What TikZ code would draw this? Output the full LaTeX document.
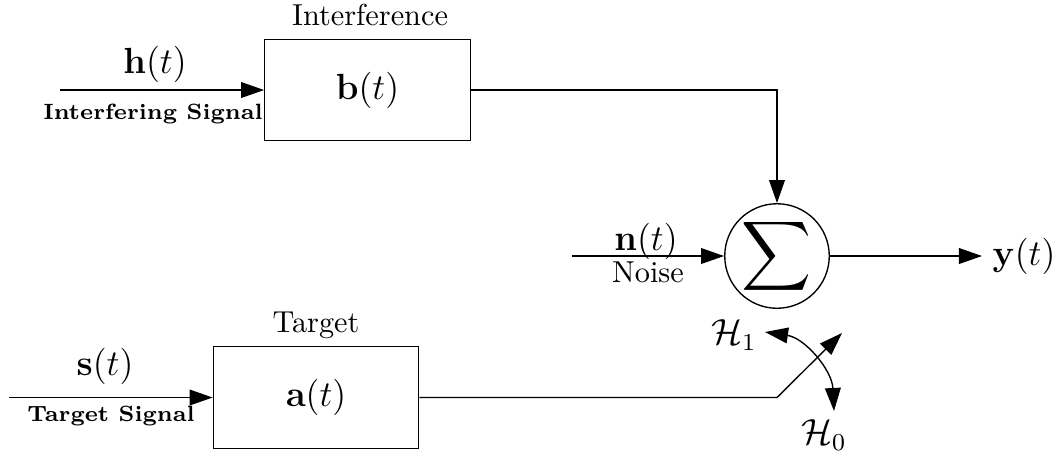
\documentclass[tikz,border=0pt]{standalone}
\usepackage{amsmath}
\usetikzlibrary{arrows.meta}
\begin{document}
\begin{tikzpicture}[x=0.33pt,y=-0.33pt,
  line width=0.45pt,
  tip/.style={-{Triangle[length=7.6pt,width=5.2pt]}},
  tips/.style={{Triangle[length=7.6pt,width=5.2pt]}-{Triangle[length=7.6pt,width=5.2pt]}},
  blk/.style={draw,inner sep=0pt,minimum width=67.8pt,minimum height=33.5pt,font=\large},
  sumnode/.style={draw,circle,inner sep=0pt,minimum size=34.3pt},
  lbl/.style={inner sep=0pt},
  mlbl/.style={inner sep=0pt,font=\large},
  sig/.style={inner sep=0pt,font=\bfseries\fontsize{7.3}{9}\selectfont}]
\useasboundingbox (0,0) rectangle (1055,457);

% interference path
\node[blk] (b) at (367.5,90) {$\mathbf{b}(t)$};
\node[lbl] (binf) at (370,15) {Interference};
\coordinate (hin) at (60,90);
\node[mlbl] (h) at (155,64) {$\mathbf{h}(t)$};
\node[sig] (hs) at (153,114) {Interfering Signal};
\draw[tip] (hin) -- (b.west);

% summing junction
\node[sumnode] (sum) at (777,256) {\scalebox{1.6}{$\displaystyle\sum$}};
\draw[tip] (b.east) -| (sum.north);

\coordinate (nin) at (572,256);
\node[mlbl] (n) at (646,241) {$\mathbf{n}(t)$};
\node[lbl] (noise) at (648,272) {Noise};
\draw[tip] (nin) -- (sum.west);

\coordinate (yend) at (982,256);
\node[mlbl,anchor=west] (y) at (992,256) {$\mathbf{y}(t)$};
\draw[tip] (sum.east) -- (yend);

% target path
\node[blk] (a) at (316,397.5) {$\mathbf{a}(t)$};
\node[lbl] (tgt) at (316,325) {Target};
\coordinate (sin) at (9,397.5);
\node[mlbl] (s) at (105,366) {$\mathbf{s}(t)$};
\node[sig] (ss) at (111,416) {Target Signal};
\draw[tip] (sin) -- (a.west);

% switch
\coordinate (pivot) at (777,397.5);
\coordinate (swend) at (842,333);
\draw[tip] (a.east) -- (pivot) -- (swend);

\coordinate (h1tip) at (765,332);
\coordinate (h0tip) at (834,411);
\draw[tips] (h1tip) .. controls (805,338) and (832,370) .. (h0tip);
\node[mlbl] (H1) at (734,335) {$\mathcal{H}_1$};
\node[mlbl] (H0) at (824,435) {$\mathcal{H}_0$};
\end{tikzpicture}
\end{document}
